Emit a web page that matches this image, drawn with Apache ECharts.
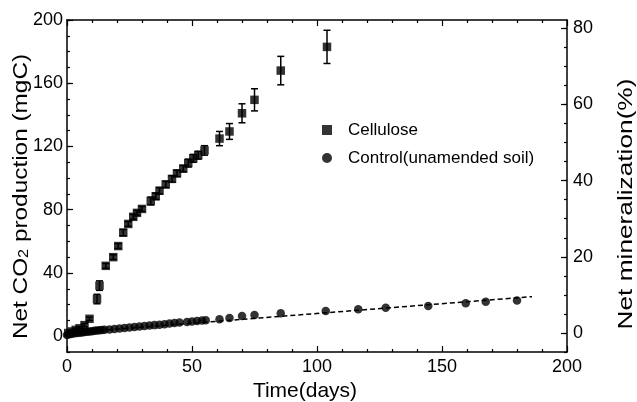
<!DOCTYPE html>
<html>
<head>
<meta charset="utf-8">
<script src="https://cdn.jsdelivr.net/npm/echarts@6/dist/echarts.min.js"></script>
<style>
html,body{margin:0;padding:0;background:#fff;}
#chart{width:637px;height:402px;}
</style>
</head>
<body>
<div id="chart"></div>
<script>
// ---- data ----
const cellDays = [0.5, 2, 3.5, 5, 7, 9, 12, 13, 15.5, 18.5, 20.5, 22.5, 24.5, 26.5, 28, 30, 33.5, 35.5, 37, 39.5, 42, 44, 46.5, 48.5, 50.5, 52.5, 55, 61, 65, 70, 75, 85.5, 104];
const cellulose = [2, 3, 4, 5, 7, 11, 23.5, 32, 44.5, 50, 57, 65.5, 71, 75.5, 78, 80.5, 85.5, 88.5, 92, 96, 99.5, 103, 106, 109.5, 112.5, 114.5, 117.5, 125, 129.5, 141, 149.5, 168, 183];
const cellErr = [0.5, 0.5, 0.5, 1, 1, 1, 3, 3, 1.5, 1.5, 1.5, 2, 1.5, 1.5, 1.5, 1.5, 2.5, 2, 2, 2, 2, 2, 2, 2.5, 2.5, 2.5, 3, 4.5, 5, 6, 7, 9, 10.5];
const ctrlDays = [0, 1, 2, 3, 4, 5, 6, 7, 8, 9, 10, 11, 12, 13, 14, 15, 17, 19, 21, 23, 25, 27, 29, 31, 33, 35, 37, 39, 41, 43, 45, 48, 50, 52, 54, 55.5, 61, 65, 70, 75, 85.5, 103.5, 116.5, 127.5, 144.5, 159.5, 167.5, 180];
const control = [0.8, 1.2, 1.5, 1.8, 2.0, 2.2, 2.4, 2.6, 2.8, 3.0, 3.2, 3.4, 3.6, 3.7, 3.9, 4.0, 4.3, 4.6, 4.9, 5.2, 5.5, 5.8, 6.1, 6.4, 6.7, 7.0, 7.3, 7.6, 8.0, 8.3, 8.6, 9.0, 9.3, 9.6, 9.9, 10.1, 10.7, 11.5, 12.8, 13.4, 14.5, 15.9, 17.0, 18.0, 19.1, 20.8, 21.8, 22.5];
const fitDays = [0, 186];
const fitVals = [2, 25];
const leftTicks = [0, 40, 80, 120, 160, 200];
const leftMinor = [-10, 0, 10, 20, 30, 40, 50, 60, 70, 80, 90, 100, 110, 120, 130, 140, 150, 160, 170, 180, 190, 200];
const rightTicks = [0, 20, 40, 60, 80];
const rightMinor = [-5, 0, 5, 10, 15, 20, 25, 30, 35, 40, 45, 50, 55, 60, 65, 70, 75, 80];
const xTitle = 'Time(days)';
const leftTitle = 'Net CO{sub|2} production (mgC)';
const rightTitle = 'Net mineralization(%)';

const FONT = 'Liberation Sans, Arial, sans-serif';
const chart = echarts.init(document.getElementById('chart'), null, {renderer: 'canvas'});

const axLine = {show: true, onZero: false, lineStyle: {color: '#000', width: 1.5}};
const noLine = {show: false, onZero: false};
const tickStyle = {color: '#000', width: 1.2};

function errItem(params, api) {
  const x = api.value(0), lo = api.value(1), hi = api.value(2);
  const a = api.coord([x, hi]), b = api.coord([x, lo]);
  const w = 3.5;
  const st = {stroke: '#000', lineWidth: 1.5};
  return {type: 'group', children: [
    {type: 'line', shape: {x1: a[0], y1: a[1], x2: b[0], y2: b[1]}, style: st},
    {type: 'line', shape: {x1: a[0] - w, y1: a[1], x2: a[0] + w, y2: a[1]}, style: st},
    {type: 'line', shape: {x1: b[0] - w, y1: b[1], x2: b[0] + w, y2: b[1]}, style: st}
  ]};
}

const option = {
  animation: false,
  backgroundColor: '#fff',
  textStyle: {fontFamily: FONT, color: '#000'},
  grid: {left: 67, right: 70, top: 20, bottom: 50, containLabel: false, outerBoundsMode: 'none'},
  graphic: [
    {
      type: 'text', x: 21, y: 196.5, rotation: Math.PI / 2, scaleX: 1.16, silent: true,
      style: {
        text: leftTitle, fontFamily: FONT, fontSize: 21, fill: '#000', align: 'center', verticalAlign: 'middle',
        rich: {sub: {fontFamily: FONT, fontSize: 14, fill: '#000', padding: [10, 0, 0, 0], verticalAlign: 'bottom', lineHeight: 14}}
      }
    },
    {
      type: 'text', x: 626, y: 204, rotation: Math.PI / 2, scaleX: 1.25, silent: true,
      style: {text: rightTitle, fontFamily: FONT, fontSize: 21, fill: '#000', align: 'center', verticalAlign: 'middle'}
    }
  ],
  legend: {
    left: 322, top: 120, orient: 'vertical', padding: 0, itemGap: 8, itemWidth: 10, itemHeight: 10,
    textStyle: {fontFamily: FONT, fontSize: 17, color: '#000', lineHeight: 20, padding: [0, 0, 0, 11]},
    data: [{name: 'Cellulose', icon: 'rect'}, {name: 'Control(unamended soil)', icon: 'circle'}]
  },
  xAxis: [
    {
      type: 'value', min: 0, max: 200, interval: 50, position: 'bottom',
      name: xTitle, nameLocation: 'middle', nameGap: 25,
      nameTextStyle: {fontFamily: FONT, fontSize: 21, color: '#000', padding: [0, 24, 0, 0]},
      axisLine: axLine,
      axisTick: {show: true, inside: true, length: 6, lineStyle: tickStyle},
      minorTick: {show: true, splitNumber: 5, length: 3, lineStyle: tickStyle},
      axisLabel: {fontFamily: FONT, fontSize: 18, color: '#000', margin: 6},
      splitLine: {show: false}
    },
    {
      type: 'value', min: 0, max: 200, interval: 50, position: 'top',
      axisLine: axLine,
      axisTick: {show: true, inside: true, length: 6, lineStyle: tickStyle},
      minorTick: {show: true, splitNumber: 5, length: 3, lineStyle: tickStyle},
      axisLabel: {show: false},
      splitLine: {show: false}
    }
  ],
  yAxis: [
    {
      type: 'value', min: -10, max: 200, position: 'left',
      axisLine: axLine,
      axisTick: {show: true, inside: true, length: 6, lineStyle: tickStyle, customValues: leftTicks},
      axisLabel: {fontFamily: FONT, fontSize: 18, color: '#000', margin: 4, customValues: leftTicks},
      splitLine: {show: false}
    },
    {
      type: 'value', min: -5, max: 82.2, position: 'right',
      axisLine: axLine,
      axisTick: {show: true, inside: true, length: 6, lineStyle: tickStyle, customValues: rightTicks},
      axisLabel: {fontFamily: FONT, fontSize: 18, color: '#000', margin: 6, customValues: rightTicks},
      splitLine: {show: false}
    },
    {
      type: 'value', min: -10, max: 200, position: 'left', offset: 0,
      axisLine: noLine,
      axisTick: {show: true, inside: true, length: 3, lineStyle: tickStyle, customValues: leftMinor},
      axisLabel: {show: false},
      splitLine: {show: false}
    },
    {
      type: 'value', min: -5, max: 82.2, position: 'right', offset: 0,
      axisLine: noLine,
      axisTick: {show: true, inside: true, length: 3, lineStyle: tickStyle, customValues: rightMinor},
      axisLabel: {show: false},
      splitLine: {show: false}
    }
  ],
  series: [
    {
      type: 'line', name: 'fit', xAxisIndex: 0, yAxisIndex: 0,
      data: fitDays.map((d, i) => [d, fitVals[i]]),
      showSymbol: false, symbol: 'none',
      lineStyle: {color: '#000', width: 1.5, type: [5, 3]},
      silent: true, z: 1
    },
    {
      type: 'custom', name: 'errors', xAxisIndex: 0, yAxisIndex: 0,
      renderItem: errItem,
      data: cellDays.map((d, i) => [d, cellulose[i] - cellErr[i], cellulose[i] + cellErr[i]]),
      encode: {x: 0, y: [1, 2]}, z: 2, silent: true
    },
    {
      type: 'scatter', name: 'Cellulose', xAxisIndex: 0, yAxisIndex: 0,
      symbol: 'rect', symbolSize: 8.5,
      itemStyle: {color: '#000'},
      data: cellDays.map((d, i) => [d, cellulose[i]]), z: 3
    },
    {
      type: 'scatter', name: 'Control(unamended soil)', xAxisIndex: 0, yAxisIndex: 0,
      symbol: 'circle', symbolSize: 8.5,
      itemStyle: {color: '#000'},
      data: ctrlDays.map((d, i) => [d, control[i]]), z: 3
    }
  ]
};
chart.setOption(option);
</script>
</body>
</html>
